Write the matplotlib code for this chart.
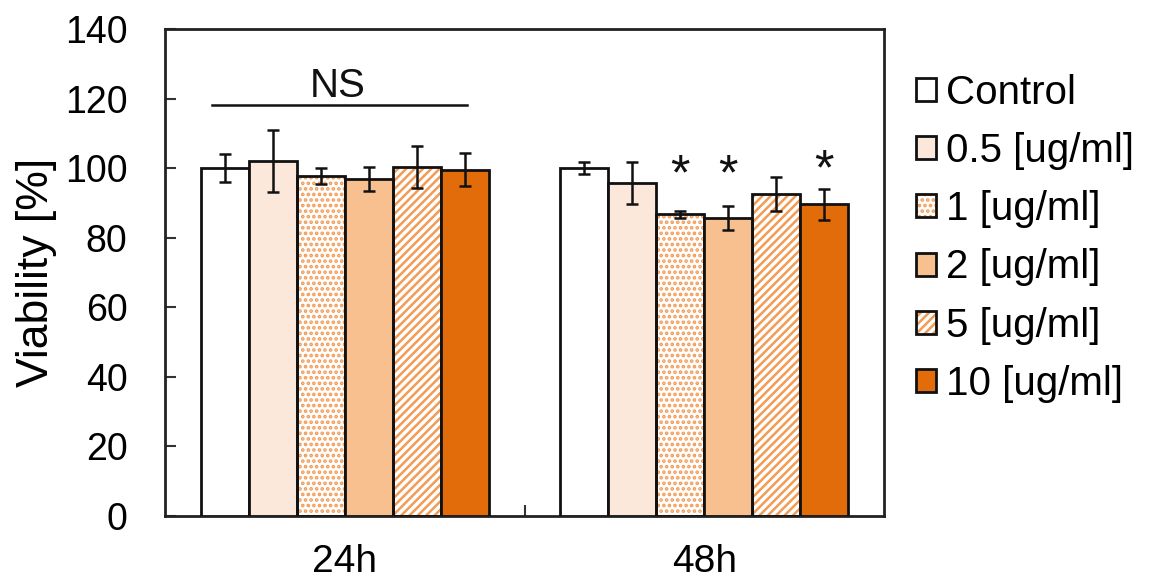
import numpy as np
import matplotlib.pyplot as plt
from matplotlib.patches import Patch

plt.rcParams['font.family'] = ['Liberation Sans', 'DejaVu Sans']
plt.rcParams['hatch.linewidth'] = 1.8

# Data
groups = ['24h', '48h']
labels = ['Control', '0.5 [ug/ml]', '1 [ug/ml]', '2 [ug/ml]', '5 [ug/ml]', '10 [ug/ml]']
means_24h = [100.0, 102.0, 97.7, 96.8, 100.4, 99.6]
errs_24h = [4.0, 9.0, 2.2, 3.5, 6.0, 4.7]
means_48h = [100.0, 95.8, 86.8, 85.6, 92.6, 89.6]
errs_48h = [1.7, 6.0, 1.0, 3.4, 4.8, 4.5]
stars_48h = ['', '', '*', '*', '', '*']
star_y = [0, 0, 100.0, 100.0, 0, 101.4]

means = np.array([means_24h, means_48h])
errs = np.array([errs_24h, errs_48h])

# Styles
face = ['white', '#FCE8DA', 'white', '#F8BF8F', 'white', '#E36C0A']
hatches = [None, None, '...', None, '////', None]
hatch_col = '#F29B55'

fig = plt.figure(figsize=(11.5, 5.8), dpi=100)
ax = fig.add_axes([165 / 1150, 64 / 580, 719 / 1150, 487 / 580])

x = np.arange(len(groups))
w = 0.8 / len(labels)
handles = []
for i, lab in enumerate(labels):
    pos = x + (i - 2.5) * w
    if hatches[i]:
        ax.bar(pos, means[:, i], w, color=face[i], edgecolor=hatch_col,
               hatch=hatches[i], linewidth=0, zorder=2)
        ax.bar(pos, means[:, i], w, color='none', edgecolor='#111111',
               linewidth=2, zorder=3)
        h = (Patch(facecolor=face[i], edgecolor=hatch_col, hatch=hatches[i], linewidth=0),
             Patch(facecolor='none', edgecolor='#111111', linewidth=2))
    else:
        ax.bar(pos, means[:, i], w, color=face[i], edgecolor='#111111',
               linewidth=2, zorder=3)
        h = Patch(facecolor=face[i], edgecolor='#111111', linewidth=2)
    handles.append(h)
    ax.errorbar(pos, means[:, i], yerr=errs[:, i], fmt='none', ecolor='#111111',
                elinewidth=1.8, capsize=4.5, capthick=1.8, zorder=4)

# significance marks
for i, s in enumerate(stars_48h):
    if s:
        ax.text(1 + (i - 2.5) * w, star_y[i] - 6.2, s, ha='center', va='baseline',
                fontsize=36, color='#111111')
ax.plot([-0.37, 0.34], [118.2, 118.2], color='#111111', lw=1.8)
ax.text(-0.02, 120.4, 'NS', ha='center', va='baseline', fontsize=29, color='#111111')

ax.set_xlim(-0.5, 1.5)
ax.set_ylim(0, 140)
ax.set_yticks(np.arange(0, 141, 20))
ax.set_xticks(x)
ax.set_xticklabels(groups, fontsize=28)
ax.set_xticks([0.5], minor=True)
ax.tick_params(axis='x', which='major', length=0, pad=20)
ax.tick_params(axis='x', which='minor', direction='in', length=8, width=1.5, color='#333333')
ax.tick_params(axis='y', direction='in', length=8, width=1.5, color='#333333',
               labelsize=27, pad=27)
for sp in ax.spines.values():
    sp.set_linewidth(2)
    sp.set_color('#222222')
ax.set_ylabel('Viability [%]', fontsize=32, labelpad=6)

fig.legend(handles, labels, loc='upper left', bbox_to_anchor=(916 / 1150, 1 - 74 / 580),
           frameon=False, fontsize=29, handlelength=0.5, handleheight=0.5,
           handletextpad=0.25, labelspacing=0.5, borderaxespad=0, borderpad=0)

fig.savefig('out.png', dpi=100)
